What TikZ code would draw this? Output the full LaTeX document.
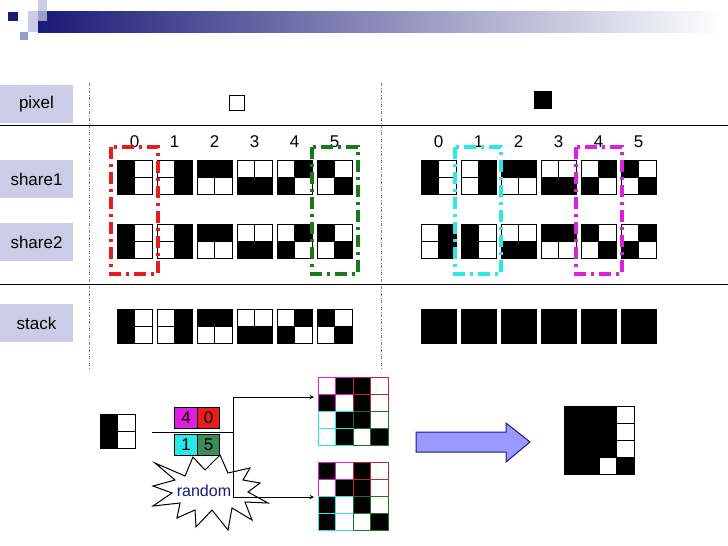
\documentclass[tikz,border=0pt]{standalone}
\usepackage{fontspec}
\setmainfont{Liberation Sans}
\usetikzlibrary{positioning}
\definecolor{lav}{RGB}{204,204,230}
\definecolor{lavmid}{RGB}{155,155,205}
\definecolor{barmid}{RGB}{112,112,188}
\definecolor{navy}{RGB}{26,26,120}
\definecolor{mag}{RGB}{224,30,224}
\definecolor{rd}{RGB}{232,28,28}
\definecolor{cy}{RGB}{40,232,232}
\definecolor{gn}{RGB}{26,120,26}
\definecolor{sea}{RGB}{60,140,90}
\definecolor{dred}{RGB}{190,40,40}
\definecolor{arr}{RGB}{153,153,255}
\newcommand{\cellbox}[4]{\ifnum#3=1\relax\path[draw=#4,fill=black] (#1,#2) rectangle ++(17.5,17);\else\path[draw=#4,fill=white] (#1,#2) rectangle ++(17.5,17);\fi}
\newcommand{\blk}[7][black]{\cellbox{#2}{#3}{#4}{#1}\cellbox{#2+17.5}{#3}{#5}{#1}\cellbox{#2}{#3+17}{#6}{#1}\cellbox{#2+17.5}{#3+17}{#7}{#1}}

\begin{document}
\begin{tikzpicture}[>=stealth, x=1pt, y=-1pt, line width=1pt,
  lbl/.style={fill=lav, minimum width=73, minimum height=38, inner sep=0, font=\fontsize{17}{18}\selectfont},
  num/.style={inner sep=0, font=\fontsize{17}{18}\selectfont},
  grp/.style={draw=#1, line width=3.2pt, dash pattern=on 12pt off 5pt on 3pt off 5pt},
  sep/.style={draw=gray, line width=0.7pt, dash pattern=on 3pt off 1.5pt on 1pt off 1.5pt},
  tag/.style={draw, outer sep=0, inner sep=0, minimum width=22.5, minimum height=21, font=\fontsize{17}{18}\selectfont}]
\useasboundingbox (0,0) rectangle (728,546);

\shade[left color=navy, middle color=barmid, right color=white] (38,11) rectangle (722,32);
\fill[navy] (8,12) rectangle (18,21);
\fill[lav] (28,11) rectangle (38,21);
\fill[lav] (38,0) rectangle (47,11);
\fill[lavmid] (38,11) rectangle (47,21);
\fill[lav] (28,21) rectangle (38,32);
\fill[lavmid] (20,32) rectangle (28,40);

\node[lbl] (pixel) at (36.5,104) {pixel};
\node[lbl] (share1) at (36.5,179) {share1};
\node[lbl] (share2) at (36.5,242) {share2};
\node[lbl] (stack) at (36.5,323) {stack};

\draw[sep] (89,83) -- (89,368);
\draw[sep] (381,83) -- (381,368);
\draw (0,125) -- (728,125);
\draw (0,284) -- (728,284);

\node[draw, minimum size=15, inner sep=0] (pw) at (236.5,102.5) {};
\node[fill=black, minimum size=18, inner sep=0] (pb) at (543,100) {};

\foreach \i/\a/\b/\c/\d in {0/1/0/1/0,1/0/1/0/1,2/1/1/0/0,3/0/0/1/1,4/0/1/1/0,5/1/0/0/1}{
  \pgfmathtruncatemacro\lx{117+40*\i}
  \pgfmathtruncatemacro\rx{421+40*\i}
  \pgfmathtruncatemacro\na{1-\a}
  \pgfmathtruncatemacro\nb{1-\b}
  \pgfmathtruncatemacro\nc{1-\c}
  \pgfmathtruncatemacro\nd{1-\d}
  \node[num] (n\i) at (\lx+17.5,142) {\i};
  \node[num] (m\i) at (\rx+17.5,142) {\i};
  \blk{\lx}{160}{\a}{\b}{\c}{\d}
  \blk{\lx}{224}{\a}{\b}{\c}{\d}
  \blk{\lx}{309}{\a}{\b}{\c}{\d}
  \blk{\rx}{160}{\a}{\b}{\c}{\d}
  \blk{\rx}{224}{\na}{\nb}{\nc}{\nd}
  \blk{\rx}{309}{1}{1}{1}{1}
}

\draw[grp=rd] (111,147) rectangle (158,274);
\draw[grp=gn] (312,147) rectangle (358,274);
\draw[grp=cy] (455,147) rectangle (501,274);
\draw[grp=mag] (576,147) rectangle (622,274);

\blk{100}{414}{1}{0}{1}{0}
\node[tag, fill=mag] (t4) at (186,417.5) {4};
\node[tag, fill=rd, right=0pt of t4] (t0) {0};
\node[tag, fill=cy, below=6pt of t4] (t1) {1};
\node[tag, fill=sea, right=0pt of t1] (t5) {5};

\draw[fill=white] (155,463) -- (185,476) -- (193,457) -- (205,470) -- (220,455) -- (228,473) -- (250,468) -- (243,480) -- (260,483) -- (248,492) -- (268,503) -- (245,502) -- (252,520) -- (232,508) -- (228,530) -- (212,510) -- (196,527) -- (195,510) -- (177,518) -- (180,503) -- (153,506) -- (172,493) -- (153,486) -- (175,480) -- cycle;
\node[text=navy, font=\fontsize{16}{17}\selectfont] (rnd) at (204,491) {random};

\coordinate (fl) at (152,432);
\coordinate (jn) at (233,432);
\coordinate (jt) at (233,397);
\coordinate (jb) at (233,497);
\coordinate (mt) at (314,397);
\coordinate (mb) at (314,497);
\draw (fl) -- (jn);
\draw (jt) -- (jb);
\draw[->] (jt) -- (mt);
\draw[->] (jb) -- (mb);

\blk[mag]{318}{377}{0}{1}{1}{0}
\blk[dred]{353}{377}{1}{0}{1}{0}
\blk[cy]{318}{411}{0}{1}{0}{1}
\blk[gn]{353}{411}{1}{0}{0}{1}
\blk[mag]{318}{462}{1}{0}{0}{1}
\blk[dred]{353}{462}{1}{0}{1}{0}
\blk[cy]{318}{496}{1}{0}{1}{0}
\blk[gn]{353}{496}{1}{0}{0}{1}

\draw[draw=navy, fill=arr] (416,432) -- (506,432) -- (506,423) -- (530,442) -- (506,462) -- (506,452) -- (416,452) -- cycle;

\blk{564}{406}{1}{1}{1}{1}
\blk{599}{406}{1}{0}{1}{0}
\blk{564}{440}{1}{1}{1}{1}
\blk{599}{440}{1}{0}{0}{1}
\end{tikzpicture}
\end{document}
